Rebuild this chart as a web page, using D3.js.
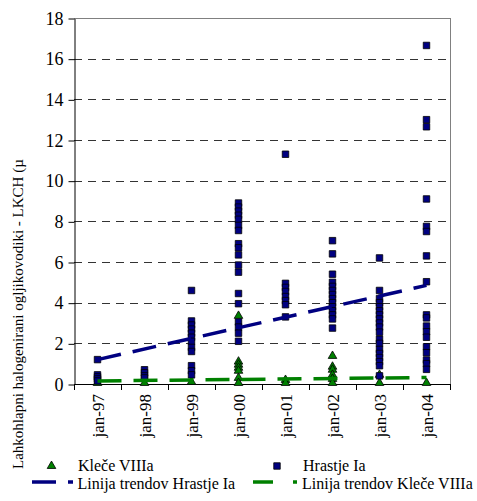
<!DOCTYPE html>
<html><head><meta charset="utf-8">
<script src="https://cdn.jsdelivr.net/npm/d3@7"></script>
<style>body{margin:0;background:#fff}svg{display:block}</style>
</head><body><svg id="c" width="477" height="501"></svg>
<script>
const categories = ["jan-97","jan-98","jan-99","jan-00","jan-01","jan-02","jan-03","jan-04"];
const yTicks = [0,2,4,6,8,10,12,14,16,18];
const hrastje = [
 [1.2, 0.45, 0.35, 0.25, 0.15],
 [0.7, 0.55, 0.4, 0.3],
 [4.6, 3.1, 2.9, 2.7, 2.5, 2.3, 2.1, 1.8, 1.6, 0.9, 0.65, 0.45],
 [8.9, 8.7, 8.5, 8.3, 8.1, 7.8, 7.55, 6.9, 6.7, 6.35, 5.85, 5.5, 4.45, 3.95, 3.05, 2.8, 2.5, 2.1],
 [11.3, 4.95, 4.75, 4.55, 4.3, 4.1, 3.9, 3.3],
 [7.05, 6.4, 5.4, 5.0, 4.8, 4.6, 4.4, 4.2, 4.0, 3.8, 3.6, 3.4, 3.2, 2.75],
 [6.2, 4.6, 4.2, 4.0, 3.8, 3.6, 3.4, 3.2, 3.0, 2.8, 2.55, 2.2, 2.0, 1.7, 1.5, 1.3, 1.1, 0.9, 0.4],
 [16.65, 13.0, 12.65, 9.1, 7.75, 7.5, 6.3, 5.03, 3.4, 3.25, 2.85, 2.57, 2.3, 1.83, 1.54, 1.18, 1.0, 0.72]
];
const klece = [
 [0.05],
 [0.05],
 [0.1],
 [3.35, 1.1, 0.95, 0.8, 0.65, 0.3, 0.05],
 [0.2, 0.05],
 [1.38, 0.85, 0.7, 0.45, 0.25, 0.05],
 [0.45, 0.05],
 [0.05]
];
const trendHrastje = [1.2, 4.85];
const trendKlece = [0.15, 0.32];
const seriesNames = ["Kleče VIIIa","Hrastje Ia","Linija trendov Hrastje Ia","Linija trendov Kleče VIIIa"];
const yTitle = "Lahkohlapni halogenirani ogljikovodiki - LKCH (µ";

const svg = d3.select("#c");

function pickFont() {
  const cands = ["Liberation Serif", "Times New Roman", "Tinos", "Nimbus Roman", "Times", "DejaVu Serif"];
  const probe = svg.append("text").attr("font-size", 40).text("jan-97 Hrastje Ia WMwmil");
  probe.attr("font-family", "monospace");
  const base = probe.node().getComputedTextLength();
  let chosen = "serif";
  for (const f of cands) {
    probe.attr("font-family", `"${f}", monospace`);
    if (Math.abs(probe.node().getComputedTextLength() - base) > 0.5) { chosen = `"${f}", serif`; break; }
  }
  probe.remove();
  return chosen;
}
const FONT = pickFont();
svg.style("font-family", FONT);

const L = 74, R = 450, T = 18, B = 384;
const x = d3.scaleBand().domain(categories).range([L, R]).padding(0);
const y = d3.scaleLinear().domain([0, 18]).range([B, T]);
const cx = c => x(c) + x.bandwidth()/2;
const navy = "#000080", green = "#008000";

// gridlines
svg.append("g").selectAll("line").data(yTicks.filter(v => v > 0 && v < 18)).join("line")
  .attr("x1", L).attr("x2", R).attr("y1", d => Math.round(y(d))+0.5).attr("y2", d => Math.round(y(d))+0.5)
  .attr("stroke", "#333").attr("stroke-dasharray", "8,6");
svg.append("line").attr("x1", L).attr("x2", R).attr("y1", Math.round(y(18))+0.5).attr("y2", Math.round(y(18))+0.5).attr("stroke", "#808080");
svg.append("line").attr("x1", R+0.5).attr("x2", R+0.5).attr("y1", y(18)).attr("y2", B).attr("stroke", "#808080");

// y axis
const ya = svg.append("g").attr("transform", `translate(${L+0.5},0.5)`)
  .call(d3.axisLeft(y).tickValues(yTicks).tickSize(6).tickPadding(5).tickSizeOuter(0));
ya.attr("font-family", FONT).attr("font-size", 18);
ya.select(".domain").attr("stroke", "#000");
ya.selectAll("text").attr("fill", "#000");

// x axis
svg.append("line").attr("x1", L).attr("x2", R).attr("y1", B+0.5).attr("y2", B+0.5).attr("stroke", "#000");
const bounds = categories.map(c => x(c)).concat([R]);
svg.append("g").selectAll("line").data(bounds).join("line")
  .attr("x1", d => Math.round(d)+0.5).attr("x2", d => Math.round(d)+0.5).attr("y1", B).attr("y2", B+6)
  .attr("stroke", "#000");
svg.append("g").attr("font-family", FONT).selectAll("text").data(categories).join("text")
  .attr("transform", d => `translate(${cx(d)+0.5},${B+10}) rotate(-90)`)
  .attr("text-anchor", "end").attr("dy", "0.35em").attr("font-size", 17).text(d => d);

// y title
svg.append("text").attr("font-family", FONT).attr("transform", `translate(18,469) rotate(-90)`)
  .attr("text-anchor", "start").attr("dy", "0.35em").attr("font-size", 15).text(yTitle);

const tri = d3.symbol().type(d3.symbolTriangle).size(32);
const sq = d3.symbol().type(d3.symbolSquare).size(42);

const kPts = klece.flatMap((vals, i) => vals.map(v => ({c: categories[i], v})));
svg.append("g").selectAll("path").data(kPts).join("path")
  .attr("d", tri).attr("transform", d => `translate(${cx(d.c)},${y(d.v)})`)
  .attr("fill", green).attr("stroke", "#000").attr("stroke-width", 0.8);
const hPts = hrastje.flatMap((vals, i) => vals.map(v => ({c: categories[i], v})));
svg.append("g").selectAll("path").data(hPts).join("path")
  .attr("d", sq).attr("transform", d => `translate(${cx(d.c)},${y(d.v)})`)
  .attr("fill", navy).attr("stroke", "#000").attr("stroke-width", 0.8);

const first = categories[0], last = categories[categories.length-1];
function trend(vals, col) {
  svg.append("line").attr("x1", cx(first)).attr("x2", cx(last))
    .attr("y1", y(vals[0])).attr("y2", y(vals[1]))
    .attr("stroke", col).attr("stroke-width", 3.5).attr("stroke-dasharray", "24,12");
}
trend(trendHrastje, navy);
trend(trendKlece, green);

// legend
const lg = svg.append("g").attr("font-size", 16).attr("font-family", FONT);
lg.append("path").attr("d", tri).attr("transform", "translate(51.5,466)").attr("fill", green).attr("stroke", "#000").attr("stroke-width", 0.8);
lg.append("text").attr("x", 78).attr("y", 471).text(seriesNames[0]);
lg.append("path").attr("d", sq).attr("transform", "translate(277,466)").attr("fill", navy).attr("stroke", "#000").attr("stroke-width", 0.8);
lg.append("text").attr("x", 303).attr("y", 471).text(seriesNames[1]);
lg.append("line").attr("x1", 32).attr("x2", 73).attr("y1", 482).attr("y2", 482).attr("stroke", navy).attr("stroke-width", 3.5).attr("stroke-dasharray", "24,12");
lg.append("text").attr("x", 77.5).attr("y", 489).text(seriesNames[2]);
lg.append("line").attr("x1", 253).attr("x2", 297).attr("y1", 482).attr("y2", 482).attr("stroke", green).attr("stroke-width", 3.5).attr("stroke-dasharray", "20,20");
lg.append("text").attr("x", 302).attr("y", 489).text(seriesNames[3]);
</script></body></html>
